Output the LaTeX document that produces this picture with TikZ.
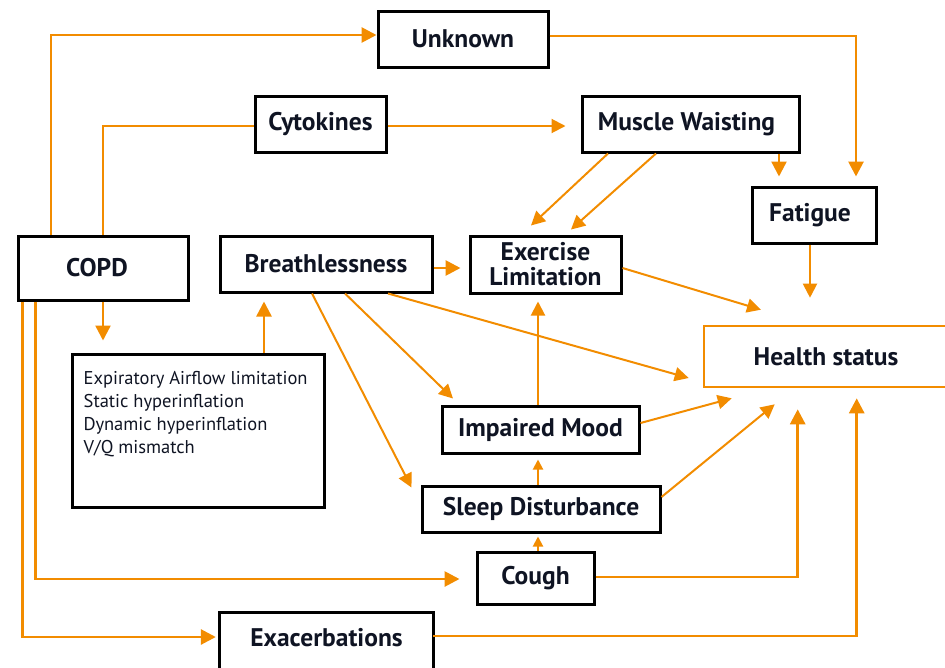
\documentclass[tikz,border=0pt]{standalone}
\usepackage{fontspec}
\setmainfont{PT Sans}
\usetikzlibrary{arrows.meta,calc}
\definecolor{org}{RGB}{242,140,0}
\definecolor{ink}{RGB}{15,20,35}
\begin{document}
\begin{tikzpicture}[x=1pt,y=-1pt,
  box/.style={draw=black,line width=3pt,inner sep=0pt,text=ink,align=center,
    font=\fontsize{25.5}{25}\selectfont\bfseries},
  hbox/.style={draw=org,line width=2.6pt,inner sep=0pt,text=ink,
    font=\fontsize{25.5}{25}\selectfont\bfseries},
  arr/.style={draw=org,line width=2.8pt,-{Triangle[length=15pt,width=15pt]}},
  arrmid/.style={draw=org,line width=2.4pt,-{Triangle[length=15pt,width=15pt]}},
  arrthin/.style={draw=org,line width=2pt,-{Triangle[length=14pt,width=14pt]}},
  arrsmall/.style={draw=org,line width=2pt,-{Triangle[length=10pt,width=10pt]}},
  link/.style={draw=org,line width=2pt}]
\useasboundingbox (0,0) rectangle (945,667);
% nodes
\node[box,minimum width=170pt,minimum height=56pt] (unknown) at (463,39) {Unknown};
\node[box,minimum width=131pt,minimum height=56pt] (cyto) at (320.5,124) {Cytokines};
\node[box,minimum width=217pt,minimum height=56pt] (muscle) at (690.5,124) {Muscle Waisting\hspace{8pt}};
\node[box,minimum width=170pt,minimum height=64pt] (copd) at (103,268) {COPD\hspace{12pt}};
\node[box,minimum width=212pt,minimum height=56pt] (breath) at (326,264) {Breathlessness};
\node[box,minimum width=151pt,minimum height=57pt] (exer) at (545.5,264.5) {Exercise\\Limitation};
\node[box,minimum width=124pt,minimum height=56pt] (fatigue) at (814,215) {Fatigue\hspace{8pt}};
\node[box,minimum width=252pt,minimum height=153pt] (expir) at (198,430.5) {};
\node[anchor=north west,inner sep=0pt,align=left,text=ink,font=\fontsize{18.5}{23}\selectfont]
  (expirtext) at ([xshift=13pt,yshift=-19pt]expir.north west)
  {Expiratory Airflow limitation\\Static hyperinflation\\Dynamic hyperinflation\\V/Q mismatch};
\node[hbox,minimum width=244pt,minimum height=61pt] (health) at (826,356.5) {Health status\hspace{8pt}};
\node[box,minimum width=197pt,minimum height=47pt] (impaired) at (540.5,429.5) {Impaired Mood};
\node[box,minimum width=238pt,minimum height=46pt] (sleep) at (541,509) {Sleep Disturbance};
\node[box,minimum width=117pt,minimum height=52pt] (cough) at (535.5,578) {Cough};
\node[inner sep=0pt,text=ink,minimum width=213pt,minimum height=50pt,
  font=\fontsize{25.5}{25}\selectfont\bfseries] (exac) at (326.5,638) {Exacerbations};
\draw[black,line width=3pt] (exac.north west) rectangle ([yshift=-40pt]exac.south east);
% connectors
\draw[arr] ([xshift=-52pt]copd.north) |- ([yshift=4pt]unknown.west);
\draw[link] ([yshift=-2pt]cyto.west) -| (copd.north);
\draw[arrthin,shorten >=15pt] ([yshift=-2pt]cyto.east) -- ([yshift=-2pt]cyto.east -| muscle.west);
\draw[arrmid,shorten >=12pt] (copd.south) -- (copd.south |- expir.north);
\draw[arrmid,shorten >=8pt] ([xshift=66pt]expir.north) -- ([xshift=66pt]expir.north |- breath.south);
\draw[arr,shorten >=8pt] ([yshift=-4pt]breath.east) -- ([yshift=-4pt]breath.east -| exer.west);
\draw[arrthin] ([xshift=-82.5pt]muscle.south) -- ([xshift=-14.5pt,yshift=9pt]exer.north);
\draw[arrthin] ([xshift=-34.5pt]muscle.south) -- ([xshift=25.5pt,yshift=5pt]exer.north);
\draw[arrmid,shorten >=9pt] ([xshift=88.5pt]muscle.south) -- ([xshift=88.5pt]muscle.south |- fatigue.north);
\draw[arr,shorten >=9pt] ([yshift=3pt]unknown.east) -| ([xshift=42pt]fatigue.north);
\draw[arrthin,shorten >=27pt] ([xshift=-4pt]fatigue.south) -- ([xshift=-4pt]fatigue.south |- health.north);
\draw[arrthin] ([yshift=-3.5pt]exer.east) -- ([xshift=-65pt,yshift=15pt]health.north);
\draw[arrthin] ([xshift=62pt]breath.south) -- ([xshift=-14pt,yshift=-21.5pt]health.west);
\draw[arrthin] ([xshift=19pt]breath.south) -- ([xshift=-87.5pt,yshift=6pt]impaired.north);
\draw[arrthin] ([xshift=-14pt]breath.south) -- ([xshift=-9pt,yshift=-3pt]sleep.north west);
\draw[arrthin,shorten >=7pt] ([xshift=-2.5pt]impaired.north) -- ([xshift=-2.5pt]impaired.north |- exer.south);
\draw[arrthin] ([yshift=6.5pt]impaired.east) -- ([xshift=29pt,yshift=-10pt]health.south west);
\draw[arrsmall,shorten >=5pt] ([xshift=-3pt]sleep.north) -- ([xshift=-3pt]sleep.north |- impaired.south);
\draw[arrthin] ([yshift=12pt]sleep.east) -- ([xshift=72pt,yshift=-16pt]health.south west);
\draw[arrsmall,shorten >=3pt] ([xshift=2.5pt]cough.north) -- ([xshift=2.5pt]cough.north |- sleep.south);
\draw[arr,shorten >=21pt] ([yshift=1pt]cough.east) -| ([xshift=95pt]health.south west);
\draw[arr,shorten >=16pt] ([xshift=19pt]copd.south west) |- ([yshift=-1pt]cough.west);
\draw[arr,shorten >=4pt] ([xshift=6pt]copd.south west) |- ([yshift=1pt]exac.west);
\draw[arr,shorten >=10pt] ([yshift=2pt]exac.east) -| ([xshift=154pt]health.south west);
\end{tikzpicture}
\end{document}
